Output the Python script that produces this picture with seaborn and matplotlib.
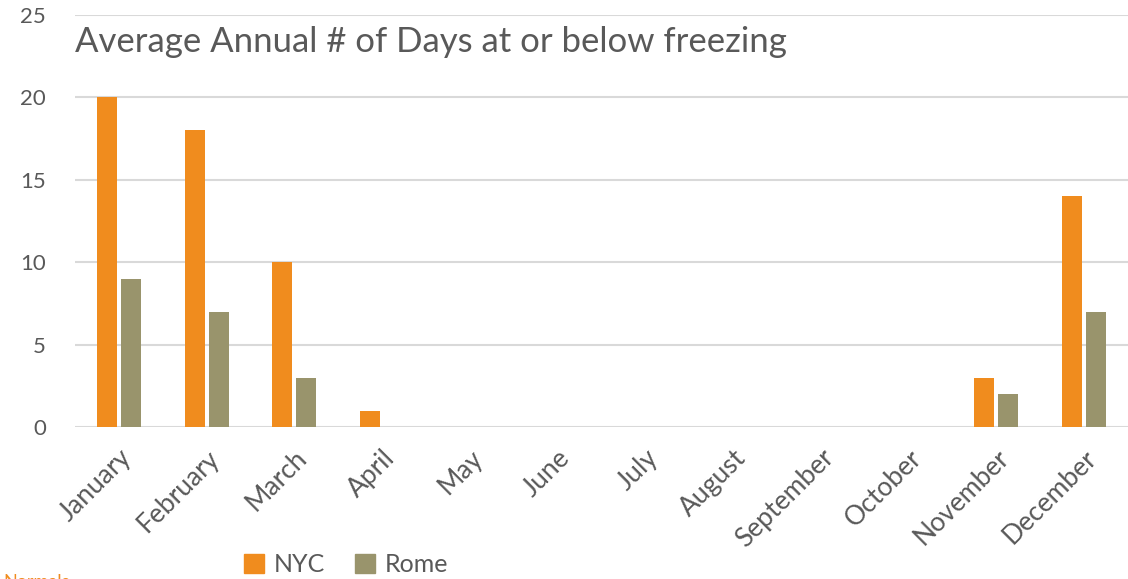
import pandas as pd
import matplotlib.pyplot as plt
import seaborn as sns

months = ['January', 'February', 'March', 'April', 'May', 'June',
          'July', 'August', 'September', 'October', 'November', 'December']
nyc = [20, 18, 10, 1, 0, 0, 0, 0, 0, 0, 3, 14]
rome = [9, 7, 3, 0, 0, 0, 0, 0, 0, 0, 2, 7]
cities = ['NYC', 'Rome']
colors = ['#F08C1E', '#99946C']

df = pd.DataFrame({
    'Month': months * 2,
    'City': ['NYC'] * len(months) + ['Rome'] * len(months),
    'Days': nyc + rome,
})

sns.set_style('white')
plt.rcParams['font.family'] = ['Lato', 'DejaVu Sans']
text_color = '#595959'

fig = plt.figure(figsize=(11.28, 5.79), dpi=100)
ax = fig.add_axes([0.0665, 0.2625, 0.9335, 0.7116])

sns.barplot(data=df, x='Month', y='Days', hue='City', hue_order=cities,
            palette=colors, saturation=1, width=0.55, gap=0.17, ax=ax,
            legend=False, edgecolor='none')

ax.set_xlim(-0.5, 11.5)
ax.set_ylim(0, 25)
ax.set_yticks([0, 5, 10, 15, 20, 25])
ax.yaxis.grid(True, color='#d9d9d9', linewidth=1.5)
ax.set_axisbelow(True)
for s in ax.spines.values():
    s.set_visible(False)
ax.axhline(0, color='#d9d9d9', linewidth=2, zorder=0)
ax.tick_params(axis='both', length=0, colors=text_color)
ax.tick_params(axis='y', pad=21, labelsize=16)
ax.tick_params(axis='x', pad=13, labelsize=19)
ax.set_xlabel('')
ax.set_ylabel('')
plt.setp(ax.get_xticklabels(), rotation=45, ha='right', rotation_mode='anchor')

ax.text(0.0, 0.935, 'Average Annual # of Days at or below freezing',
        transform=ax.transAxes, fontsize=25, color=text_color, va='center', ha='left')

handles = [plt.Rectangle((0, 0), 1, 1, color=c) for c in colors]
fig.legend(handles, cities, loc='center', bbox_to_anchor=(0.307, 0.025), ncol=2,
           frameon=False, fontsize=18, labelcolor=text_color, handlelength=0.8,
           handleheight=0.8, handletextpad=0.4, columnspacing=1.2)

fig.text(70 / 1128, -0.014, 'Normals', ha='right', va='baseline',
         fontsize=13, color='#F08C1E')

fig.savefig('out.png', dpi=100)
